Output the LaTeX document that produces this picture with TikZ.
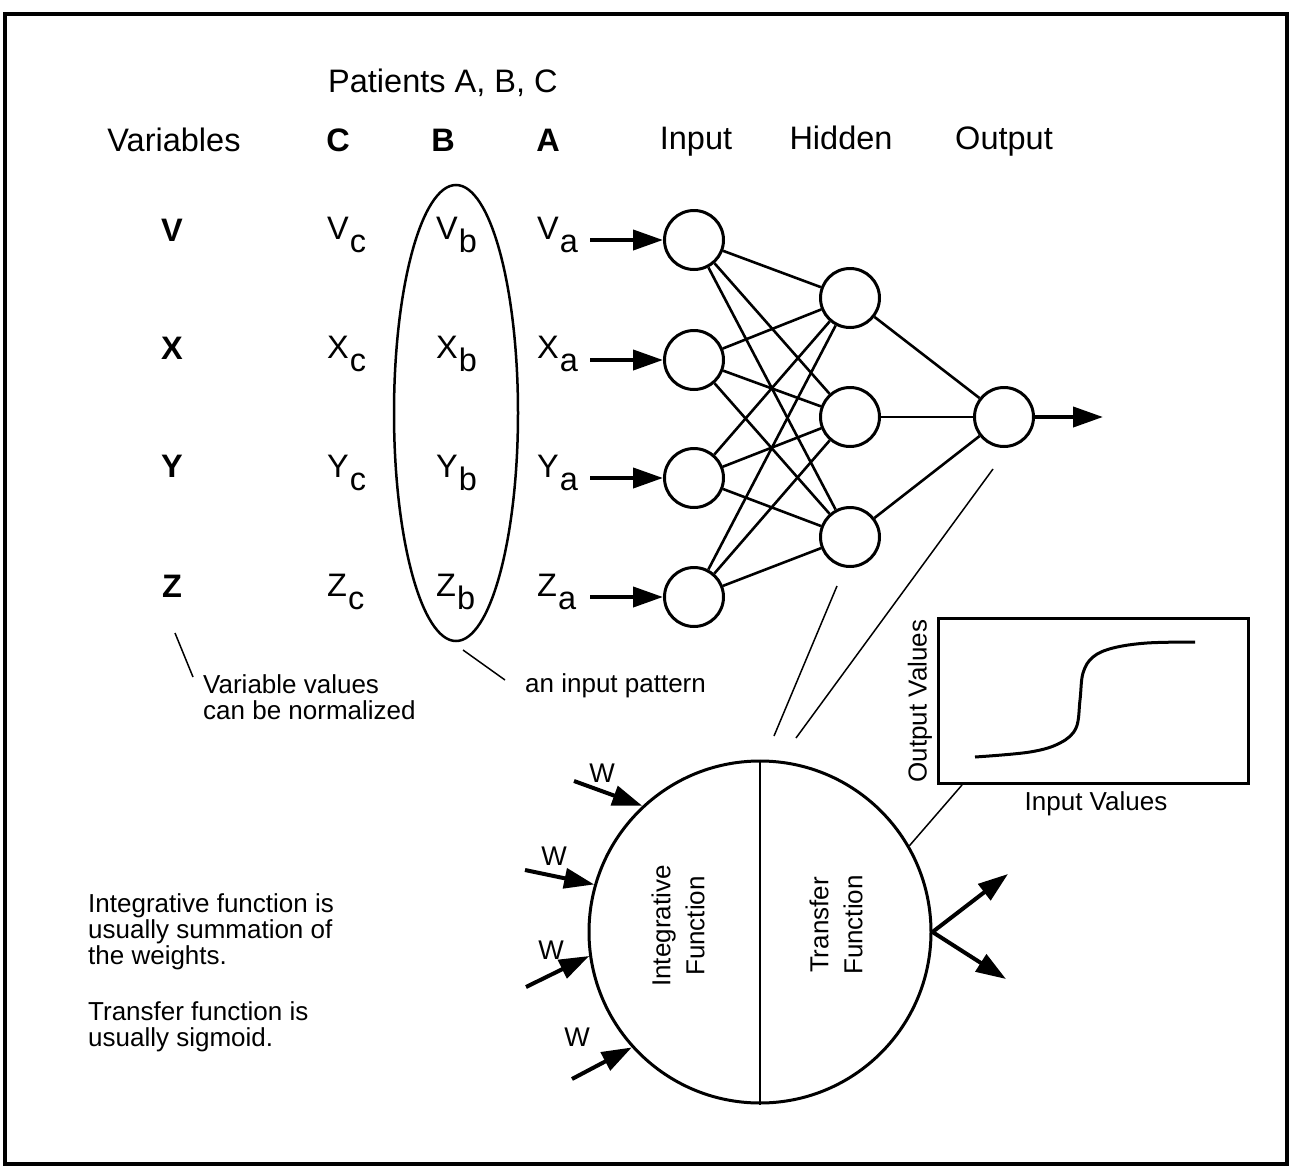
\documentclass[tikz,border=0pt]{standalone}
\usepackage{fontspec}
\setmainfont{Liberation Sans}
\usetikzlibrary{arrows.meta,shapes.geometric}
\tikzset{
  big/.style={font=\fontsize{32.5}{38}\selectfont, inner sep=0pt},
  bigb/.style={font=\fontsize{32.5}{38}\selectfont\bfseries, inner sep=0pt},
  small/.style={font=\fontsize{26}{26}\selectfont, inner sep=0pt, align=left},
  rot/.style={font=\fontsize{26}{34}\selectfont, inner sep=0pt, align=center, rotate=90},
  wlabel/.style={font=\fontsize{27}{27}\selectfont, inner sep=0pt},
  neuron/.style={circle, draw, line width=3pt, minimum size=59pt, inner sep=0pt},
  link/.style={line width=2.6pt},
  inarr/.style={line width=4pt, -{Triangle[length=30pt,width=20pt]}},
  ptr/.style={line width=1.5pt},
}
\begin{document}
\begin{tikzpicture}[x=1pt,y=-1pt]
\useasboundingbox (0,0) rectangle (1291,1167);
\draw[line width=4pt] (5,14) rectangle (1287,1164);

% headers
\node[big, anchor=base west] (patients) at (328,92) {Patients A, B, C};
\node[big, anchor=base] (variables) at (174,151) {Variables};
\node[bigb, anchor=base] (hc) at (338,151) {C};
\node[bigb, anchor=base] (hb) at (443,151) {B};
\node[bigb, anchor=base] (ha) at (548,151) {A};
\node[big, anchor=base] (hin) at (696,149) {Input};
\node[big, anchor=base] (hhid) at (841,149) {Hidden};
\node[big, anchor=base] (hout) at (1004,149) {Output};

% variable names
\node[bigb, anchor=base] (vv) at (172,241) {V};
\node[bigb, anchor=base] (vx) at (172,359) {X};
\node[bigb, anchor=base] (vy) at (172,477) {Y};
\node[bigb, anchor=base] (vz) at (172,597) {Z};

% patient values
\foreach \L [count=\i] in {V,X,Y,Z}{
  \pgfmathsetmacro{\yy}{239+119*(\i-1)}
  \node[big, anchor=base west] (\L c) at (327,\yy) {\L\kern1pt\raisebox{-13pt}{c}};
  \node[big, anchor=base west] (\L b) at (436,\yy) {\L\kern1pt\raisebox{-13pt}{b}};
  \node[big, anchor=base west] (\L a) at (537,\yy) {\L\kern1pt\raisebox{-13pt}{a}};
}

% input pattern ellipse
\node[draw, ellipse, line width=2.5pt, minimum width=124pt, minimum height=456pt, inner sep=0pt] (pattern) at (456,413) {};

% network
\node[neuron] (i1) at (694,240) {};
\node[neuron] (i2) at (694,360) {};
\node[neuron] (i3) at (694,478) {};
\node[neuron] (i4) at (694,597) {};
\node[neuron] (h1) at (850,298) {};
\node[neuron] (h2) at (850,417) {};
\node[neuron] (h3) at (850,537) {};
\node[neuron] (o) at (1004,417) {};

\foreach \i in {1,2,3,4}{
  \foreach \h in {1,2,3}{
    \draw[link] (i\i) -- (h\h);
  }
}
\foreach \h in {1,2,3}{ \draw[link] (h\h) -- (o); }

\coordinate (a1) at (590,240);
\coordinate (a2) at (590,360);
\coordinate (a3) at (590,478);
\coordinate (a4) at (590,597);
\foreach \i in {1,2,3,4}{ \draw[inarr] (a\i) -- (i\i); }
\coordinate (oend) at (1103,417);
\draw[inarr] (o) -- (oend);

% annotations
\coordinate (vp1) at (175,633);
\coordinate (vp2) at (193,677);
\draw[ptr] (vp1) -- (vp2);
\node[small, anchor=base west] (vnote) at (203,719) {Variable values\\can be normalized};
\coordinate (ip1) at (463,650);
\coordinate (ip2) at (505,680);
\draw[ptr] (ip1) -- (ip2);
\node[small, anchor=base west] (inote) at (525,692) {an input pattern};

% big neuron
\node[circle, draw, line width=3pt, minimum size=342pt, inner sep=0pt] (bign) at (760,932) {};
\draw[line width=2.5pt] (bign.north) -- (bign.south);
\node[rot] (intf) at (678,926) {Integrative\\Function};
\node[rot] (trf) at (836,925) {Transfer\\Function};

% pointer lines from hidden/output to big neuron
\coordinate (p1a) at (837,586);
\coordinate (p1b) at (774,736);
\coordinate (p2a) at (993,469);
\coordinate (p2b) at (796,738);
\draw[ptr] (p1a) -- (p1b);
\draw[ptr] (p2a) -- (p2b);

% weights in
\coordinate (w1s) at (574,781);
\coordinate (w2s) at (525,870);
\coordinate (w3s) at (526,987);
\coordinate (w4s) at (572,1079);
\draw[inarr] (w1s) -- (bign.133);
\draw[inarr] (w2s) -- (bign.164);
\draw[inarr] (w3s) -- (bign.188);
\draw[inarr] (w4s) -- (bign.222);
\node[wlabel] (wl1) at (602,773) {W};
\node[wlabel] (wl2) at (554,856) {W};
\node[wlabel] (wl3) at (551,950) {W};
\node[wlabel] (wl4) at (577,1037) {W};

% outputs
\coordinate (oa) at (1008,874);
\coordinate (ob) at (1006,979);
\draw[inarr] (bign.east) -- (oa);
\draw[inarr] (bign.east) -- (ob);

% transfer graph
\node[draw, line width=3pt, minimum width=310pt, minimum height=165pt, inner sep=0pt] (graph) at (1093,701) {};
\draw[line width=3pt] plot[smooth, tension=0.6] coordinates {(975,757) (1030,752) (1060,743) (1076,728) (1080,700) (1083,673) (1093,657) (1113,648) (1147,643) (1195,642)};
\node[small, rotate=90] (ylab) at (920,701) {Output Values};
\node[small, anchor=base] (xlab) at (1096,810) {Input Values};
\coordinate (gp) at (962,785);
\draw[ptr] (gp) -- (bign.30);

% notes
\node[small, anchor=base west] (note1) at (88,964) {Integrative function is\\usually summation of\\the weights.};
\node[small, anchor=base west] (note2) at (88,1046) {Transfer function is\\usually sigmoid.};
\end{tikzpicture}
\end{document}
